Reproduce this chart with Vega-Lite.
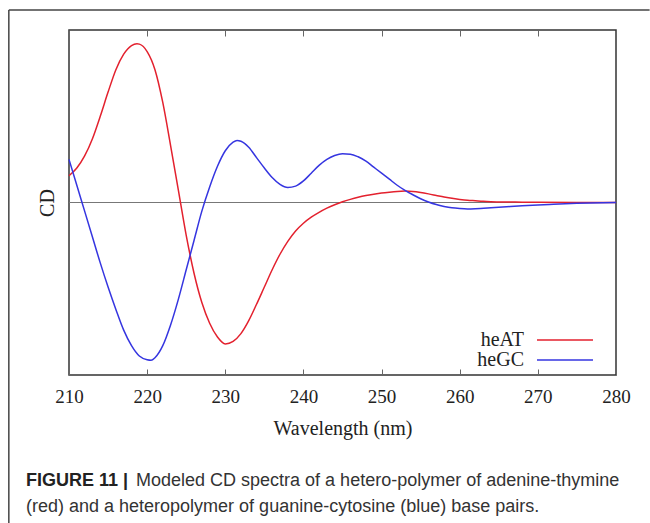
{
  "$schema": "https://vega.github.io/schema/vega-lite/v6.json",
  "width": 547,
  "height": 345,
  "autosize": {"type": "none"},
  "padding": {"left": 69, "top": 30, "right": 34, "bottom": 148},
  "background": "white",
  "config": {
    "view": {"stroke": "#333", "strokeWidth": 1.5},
    "axis": {"grid": false, "labelFont": "Liberation Serif", "titleFont": "Liberation Serif", "labelColor": "#222", "titleColor": "#222"}
  },
  "title": {
    "text": "FIGURE 11 |",
    "subtitle": ["\u200b\u00a0\u00a0\u00a0\u00a0\u00a0\u00a0\u00a0\u00a0\u00a0\u00a0\u00a0\u00a0\u00a0\u00a0\u00a0\u00a0\u00a0\u00a0\u00a0\u00a0\u00a0\u00a0Modeled CD spectra of a hetero-polymer of adenine-thymine", "(red) and a heteropolymer of guanine-cytosine (blue) base pairs."],
    "orient": "bottom",
    "anchor": "start",
    "frame": "group",
    "dx": -43,
    "dy": -52,
    "offset": 0,
    "font": "Liberation Sans",
    "fontSize": 18,
    "fontWeight": "bold",
    "color": "#222",
    "subtitleFont": "Liberation Sans",
    "subtitleFontSize": 18,
    "subtitleColor": "#333",
    "subtitleLineHeight": 26,
    "subtitlePadding": -18
  },
  "datasets": {
    "cd": [
      {"w": 210, "cd": 0.155, "s": "heAT"}, {"w": 211, "cd": 0.2, "s": "heAT"}, {"w": 212, "cd": 0.27, "s": "heAT"}, {"w": 213, "cd": 0.37, "s": "heAT"}, {"w": 214, "cd": 0.5, "s": "heAT"}, {"w": 215, "cd": 0.64, "s": "heAT"}, {"w": 216, "cd": 0.77, "s": "heAT"}, {"w": 217, "cd": 0.86, "s": "heAT"}, {"w": 218, "cd": 0.91, "s": "heAT"}, {"w": 218.7, "cd": 0.92, "s": "heAT"}, {"w": 219, "cd": 0.918, "s": "heAT"}, {"w": 220, "cd": 0.875, "s": "heAT"}, {"w": 221, "cd": 0.77, "s": "heAT"}, {"w": 222, "cd": 0.58, "s": "heAT"}, {"w": 223, "cd": 0.33, "s": "heAT"}, {"w": 224, "cd": 0.07, "s": "heAT"}, {"w": 225, "cd": -0.19, "s": "heAT"}, {"w": 226, "cd": -0.41, "s": "heAT"}, {"w": 227, "cd": -0.58, "s": "heAT"}, {"w": 228, "cd": -0.7, "s": "heAT"}, {"w": 229, "cd": -0.78, "s": "heAT"}, {"w": 230, "cd": -0.82, "s": "heAT"}, {"w": 231, "cd": -0.805, "s": "heAT"}, {"w": 232, "cd": -0.76, "s": "heAT"}, {"w": 233, "cd": -0.685, "s": "heAT"}, {"w": 234, "cd": -0.59, "s": "heAT"}, {"w": 235, "cd": -0.49, "s": "heAT"}, {"w": 236, "cd": -0.39, "s": "heAT"}, {"w": 237, "cd": -0.3, "s": "heAT"}, {"w": 238, "cd": -0.225, "s": "heAT"}, {"w": 239, "cd": -0.165, "s": "heAT"}, {"w": 240, "cd": -0.12, "s": "heAT"}, {"w": 241, "cd": -0.085, "s": "heAT"}, {"w": 242, "cd": -0.057, "s": "heAT"}, {"w": 243, "cd": -0.033, "s": "heAT"}, {"w": 244, "cd": -0.013, "s": "heAT"}, {"w": 245, "cd": 0.004, "s": "heAT"}, {"w": 246, "cd": 0.018, "s": "heAT"}, {"w": 247, "cd": 0.03, "s": "heAT"}, {"w": 248, "cd": 0.04, "s": "heAT"}, {"w": 249, "cd": 0.048, "s": "heAT"}, {"w": 250, "cd": 0.055, "s": "heAT"}, {"w": 251, "cd": 0.06, "s": "heAT"}, {"w": 252, "cd": 0.064, "s": "heAT"}, {"w": 253, "cd": 0.066, "s": "heAT"}, {"w": 254, "cd": 0.064, "s": "heAT"}, {"w": 255, "cd": 0.058, "s": "heAT"}, {"w": 256, "cd": 0.05, "s": "heAT"}, {"w": 257, "cd": 0.041, "s": "heAT"}, {"w": 258, "cd": 0.032, "s": "heAT"}, {"w": 259, "cd": 0.024, "s": "heAT"}, {"w": 260, "cd": 0.018, "s": "heAT"}, {"w": 261, "cd": 0.013, "s": "heAT"}, {"w": 262, "cd": 0.01, "s": "heAT"}, {"w": 263, "cd": 0.007, "s": "heAT"}, {"w": 264, "cd": 0.005, "s": "heAT"}, {"w": 266, "cd": 0.003, "s": "heAT"}, {"w": 268, "cd": 0.002, "s": "heAT"}, {"w": 270, "cd": 0.001, "s": "heAT"}, {"w": 275, "cd": 0.0, "s": "heAT"}, {"w": 280, "cd": 0.0, "s": "heAT"},
      {"w": 210, "cd": 0.25, "s": "heGC"}, {"w": 211, "cd": 0.1, "s": "heGC"}, {"w": 212, "cd": -0.05, "s": "heGC"}, {"w": 213, "cd": -0.2, "s": "heGC"}, {"w": 214, "cd": -0.35, "s": "heGC"}, {"w": 215, "cd": -0.49, "s": "heGC"}, {"w": 216, "cd": -0.62, "s": "heGC"}, {"w": 217, "cd": -0.74, "s": "heGC"}, {"w": 218, "cd": -0.83, "s": "heGC"}, {"w": 219, "cd": -0.89, "s": "heGC"}, {"w": 220, "cd": -0.912, "s": "heGC"}, {"w": 220.5, "cd": -0.915, "s": "heGC"}, {"w": 221, "cd": -0.9, "s": "heGC"}, {"w": 222, "cd": -0.83, "s": "heGC"}, {"w": 223, "cd": -0.71, "s": "heGC"}, {"w": 224, "cd": -0.56, "s": "heGC"}, {"w": 225, "cd": -0.39, "s": "heGC"}, {"w": 226, "cd": -0.22, "s": "heGC"}, {"w": 227, "cd": -0.05, "s": "heGC"}, {"w": 228, "cd": 0.09, "s": "heGC"}, {"w": 229, "cd": 0.21, "s": "heGC"}, {"w": 230, "cd": 0.3, "s": "heGC"}, {"w": 231, "cd": 0.35, "s": "heGC"}, {"w": 231.5, "cd": 0.36, "s": "heGC"}, {"w": 232, "cd": 0.355, "s": "heGC"}, {"w": 233, "cd": 0.32, "s": "heGC"}, {"w": 234, "cd": 0.26, "s": "heGC"}, {"w": 235, "cd": 0.2, "s": "heGC"}, {"w": 236, "cd": 0.145, "s": "heGC"}, {"w": 237, "cd": 0.105, "s": "heGC"}, {"w": 238, "cd": 0.087, "s": "heGC"}, {"w": 239, "cd": 0.095, "s": "heGC"}, {"w": 240, "cd": 0.125, "s": "heGC"}, {"w": 241, "cd": 0.17, "s": "heGC"}, {"w": 242, "cd": 0.215, "s": "heGC"}, {"w": 243, "cd": 0.25, "s": "heGC"}, {"w": 244, "cd": 0.272, "s": "heGC"}, {"w": 245, "cd": 0.282, "s": "heGC"}, {"w": 246, "cd": 0.28, "s": "heGC"}, {"w": 247, "cd": 0.265, "s": "heGC"}, {"w": 248, "cd": 0.24, "s": "heGC"}, {"w": 249, "cd": 0.205, "s": "heGC"}, {"w": 250, "cd": 0.17, "s": "heGC"}, {"w": 251, "cd": 0.135, "s": "heGC"}, {"w": 252, "cd": 0.1, "s": "heGC"}, {"w": 253, "cd": 0.07, "s": "heGC"}, {"w": 254, "cd": 0.045, "s": "heGC"}, {"w": 255, "cd": 0.022, "s": "heGC"}, {"w": 256, "cd": 0.003, "s": "heGC"}, {"w": 257, "cd": -0.012, "s": "heGC"}, {"w": 258, "cd": -0.023, "s": "heGC"}, {"w": 259, "cd": -0.031, "s": "heGC"}, {"w": 260, "cd": -0.035, "s": "heGC"}, {"w": 261, "cd": -0.037, "s": "heGC"}, {"w": 262, "cd": -0.036, "s": "heGC"}, {"w": 264, "cd": -0.031, "s": "heGC"}, {"w": 266, "cd": -0.025, "s": "heGC"}, {"w": 268, "cd": -0.019, "s": "heGC"}, {"w": 270, "cd": -0.014, "s": "heGC"}, {"w": 272, "cd": -0.01, "s": "heGC"}, {"w": 275, "cd": -0.005, "s": "heGC"}, {"w": 280, "cd": 0.0, "s": "heGC"}
    ]
  },
  "resolve": {"axis": {"x": "independent", "y": "independent"}},
  "layer": [
    {
      "data": {"values": [{}]},
      "mark": {"type": "rule", "color": "#444", "strokeWidth": 1.5},
      "encoding": {
        "x": {"datum": 202.3, "type": "quantitative", "scale": {"domain": [210, 280]}, "axis": null},
        "y": {"datum": 1.116, "type": "quantitative", "scale": {"domain": [-1, 1]}, "axis": null},
        "y2": {"datum": -1.86}
      }
    },
    {
      "data": {"values": [{}]},
      "mark": {"type": "rule", "color": "#444", "strokeWidth": 1.5},
      "encoding": {
        "x": {"datum": 202.3, "type": "quantitative", "scale": {"domain": [210, 280]}, "axis": null},
        "x2": {"datum": 284.3},
        "y": {"datum": 1.116, "type": "quantitative", "scale": {"domain": [-1, 1]}, "axis": null}
      }
    },
    {
      "data": {"values": [{}]},
      "mark": {"type": "rule", "color": "#777", "strokeWidth": 1},
      "encoding": {
        "x": {"datum": 210, "type": "quantitative", "scale": {"domain": [210, 280]},
          "axis": {"orient": "top", "values": [210, 220, 230, 240, 250, 260, 270, 280], "labels": false, "title": null, "domain": false, "offset": -6, "tickSize": 6, "tickColor": "#666", "tickWidth": 1}},
        "x2": {"datum": 280},
        "y": {"datum": 0, "type": "quantitative", "scale": {"domain": [-1, 1]}, "axis": null}
      }
    },
    {
      "data": {"name": "cd"},
      "mark": {"type": "line", "strokeWidth": 1.5, "interpolate": "monotone"},
      "encoding": {
        "x": {"field": "w", "type": "quantitative", "scale": {"domain": [210, 280]},
          "axis": {"orient": "bottom", "values": [210, 220, 230, 240, 250, 260, 270, 280], "title": "Wavelength (nm)", "titleFontSize": 20, "titleFontWeight": "normal", "titlePadding": 12, "labelFontSize": 19, "labelPadding": 12, "labelFlush": false, "domain": false, "offset": -6, "tickSize": 6, "tickColor": "#666", "tickWidth": 1}},
        "y": {"field": "cd", "type": "quantitative", "scale": {"domain": [-1, 1]},
          "axis": {"title": "CD", "titleFontSize": 20, "titleFontWeight": "normal", "titlePadding": 12, "labels": false, "ticks": false, "domain": false}},
        "color": {"field": "s", "type": "nominal", "scale": {"domain": ["heAT", "heGC"], "range": ["#e3212e", "#3535e0"]},
          "legend": {"orient": "none", "legendX": 486, "legendY": 300, "title": null, "symbolType": "M-5,0H5", "symbolSize": 125.4, "symbolStrokeWidth": 1.5, "labelFont": "Liberation Serif", "labelFontSize": 20, "labelColor": "#222", "labelAlign": "right", "labelOffset": -51, "rowPadding": 0, "padding": 0}}
      }
    }
  ]
}
